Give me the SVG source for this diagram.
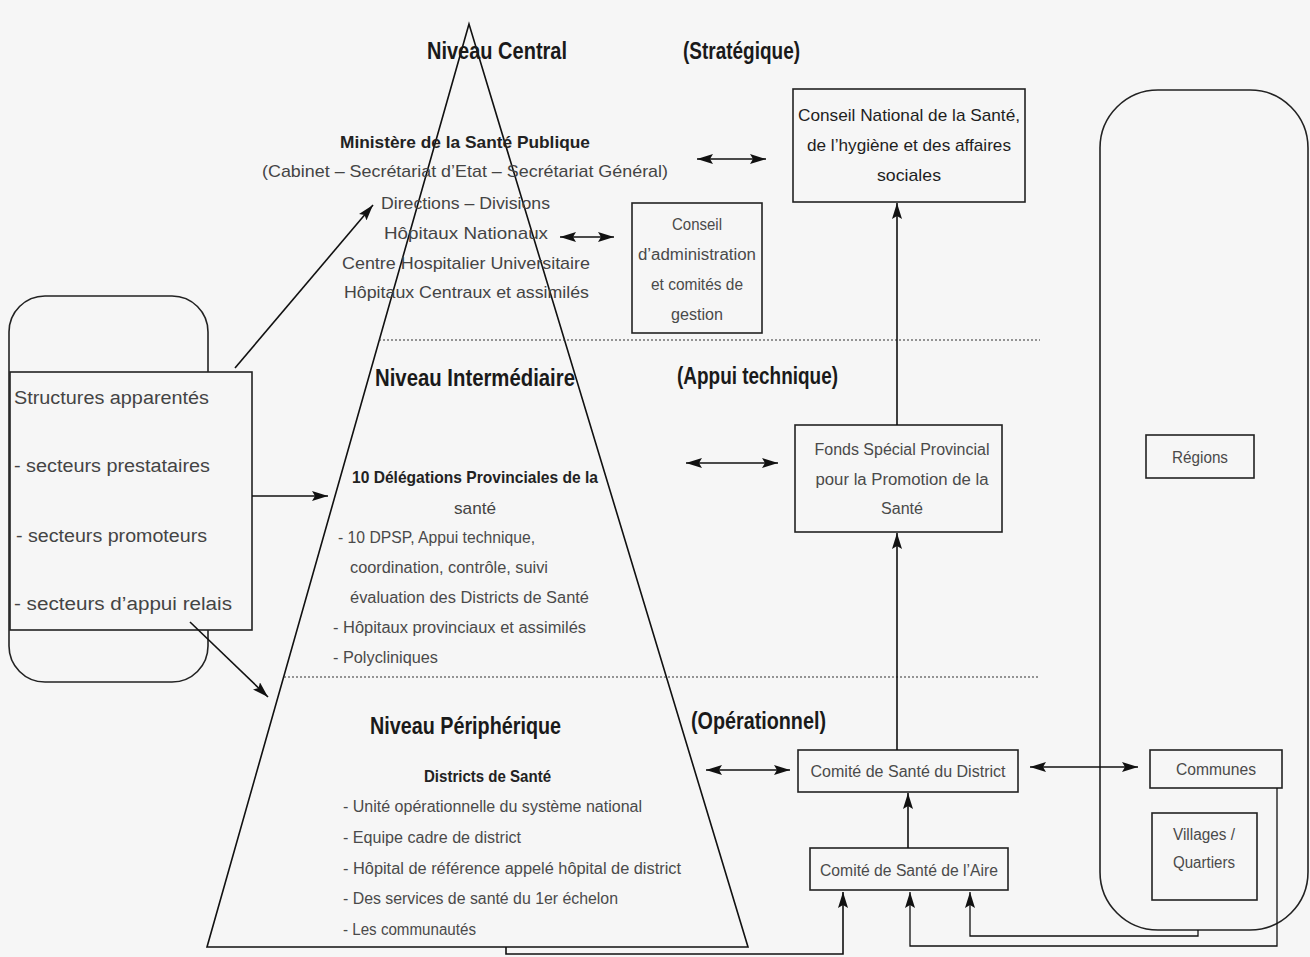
<svg xmlns="http://www.w3.org/2000/svg" width="1310" height="957" viewBox="0 0 1310 957">
<defs>
<style>
text{font-family:"Liberation Sans Narrow","Liberation Sans",Arial,sans-serif;fill:#333;dominant-baseline:central}
.h{font-size:24px;fill:#1a1a1a;font-weight:bold}
.b{font-size:17px;font-weight:bold;fill:#222}
.t{font-size:17px;fill:#444}
.s{font-size:16px;fill:#4a4a4a}
.m{text-anchor:middle}
.box{fill:none;stroke:#222;stroke-width:1.6}
.ln{fill:none;stroke:#111;stroke-width:1.6}
.dot{fill:none;stroke:#333;stroke-width:1;stroke-dasharray:2 2}
</style>
<marker id="ah" viewBox="0 0 16 10" refX="16" refY="5" markerWidth="16" markerHeight="10" markerUnits="userSpaceOnUse" orient="auto-start-reverse">
<path d="M0,0 L16,5 L0,10 L3,5 z" fill="#111"/>
</marker>
</defs>
<rect width="1310" height="957" fill="#f6f6f6"/>

<g id="pyramid">
<path d="M469,24 L207,947 L748,947 Z" class="ln" stroke-width="1.8"/>
<line x1="379" y1="340" x2="1040" y2="340" class="dot"/>
<line x1="284" y1="677" x2="1040" y2="677" class="dot"/>
</g>

<g id="niveau-central">
<text x="427" y="50" class="h" textLength="140" lengthAdjust="spacingAndGlyphs">Niveau Central</text>
<text x="683" y="50" class="h" textLength="117" lengthAdjust="spacingAndGlyphs">(Stratégique)</text>
<text x="340" y="142" class="b" textLength="250" lengthAdjust="spacingAndGlyphs">Ministère de la Santé Publique</text>
<text x="262" y="171" class="t" textLength="406" lengthAdjust="spacingAndGlyphs">(Cabinet – Secrétariat d’Etat – Secrétariat Général)</text>
<text x="381" y="203" class="t" textLength="169" lengthAdjust="spacingAndGlyphs">Directions – Divisions</text>
<text x="384" y="233" class="t" textLength="164" lengthAdjust="spacingAndGlyphs">Hôpitaux Nationaux</text>
<text x="342" y="263" class="t" textLength="248" lengthAdjust="spacingAndGlyphs">Centre Hospitalier Universitaire</text>
<text x="344" y="292" class="t" textLength="245" lengthAdjust="spacingAndGlyphs">Hôpitaux Centraux et assimilés</text>
</g>

<g id="conseil-national">
<rect x="793" y="89" width="232" height="113" class="box"/>
<text x="909" y="115" class="t m" textLength="222" lengthAdjust="spacingAndGlyphs" style="fill:#1e1e1e">Conseil National de la Santé,</text>
<text x="909" y="145" class="t m" textLength="204" lengthAdjust="spacingAndGlyphs" style="fill:#1e1e1e">de l’hygiène et des affaires</text>
<text x="909" y="175" class="t m" textLength="64" lengthAdjust="spacingAndGlyphs" style="fill:#1e1e1e">sociales</text>
</g>

<g id="conseil-administration">
<rect x="632" y="203" width="130" height="130" class="box"/>
<text x="697" y="224" class="s m" textLength="50" lengthAdjust="spacingAndGlyphs">Conseil</text>
<text x="697" y="254" class="s m" textLength="118" lengthAdjust="spacingAndGlyphs">d’administration</text>
<text x="697" y="284" class="s m" textLength="92" lengthAdjust="spacingAndGlyphs">et comités de</text>
<text x="697" y="314" class="s m" textLength="52" lengthAdjust="spacingAndGlyphs">gestion</text>
</g>

<g id="niveau-intermediaire">
<text x="375" y="377" class="h" textLength="200" lengthAdjust="spacingAndGlyphs">Niveau Intermédiaire</text>
<text x="677" y="375" class="h" textLength="161" lengthAdjust="spacingAndGlyphs">(Appui technique)</text>
<text x="352" y="477" class="b" textLength="246" lengthAdjust="spacingAndGlyphs">10 Délégations Provinciales de la</text>
<text x="475" y="508" class="t m" textLength="42" lengthAdjust="spacingAndGlyphs">santé</text>
<text x="338" y="537" class="s" textLength="197" lengthAdjust="spacingAndGlyphs">- 10 DPSP, Appui technique,</text>
<text x="350" y="567" class="s" textLength="198" lengthAdjust="spacingAndGlyphs">coordination, contrôle, suivi</text>
<text x="350" y="597" class="s" textLength="239" lengthAdjust="spacingAndGlyphs">évaluation  des Districts de Santé</text>
<text x="333" y="627" class="s" textLength="253" lengthAdjust="spacingAndGlyphs">- Hôpitaux provinciaux et assimilés</text>
<text x="333" y="657" class="s" textLength="105" lengthAdjust="spacingAndGlyphs">- Polycliniques</text>
</g>

<g id="fonds-special">
<rect x="795" y="425" width="207" height="107" class="box"/>
<text x="902" y="449" class="s m" textLength="175" lengthAdjust="spacingAndGlyphs">Fonds Spécial Provincial</text>
<text x="902" y="479" class="s m" textLength="173" lengthAdjust="spacingAndGlyphs">pour la Promotion de la</text>
<text x="902" y="508" class="s m" textLength="42" lengthAdjust="spacingAndGlyphs">Santé</text>
</g>

<g id="niveau-peripherique">
<text x="370" y="725" class="h" textLength="191" lengthAdjust="spacingAndGlyphs">Niveau Périphérique</text>
<text x="691" y="720" class="h" textLength="135" lengthAdjust="spacingAndGlyphs">(Opérationnel)</text>
<text x="424" y="776" class="b" textLength="127" lengthAdjust="spacingAndGlyphs">Districts de Santé</text>
<text x="343" y="806" class="s" textLength="299" lengthAdjust="spacingAndGlyphs">- Unité opérationnelle du système national</text>
<text x="343" y="837" class="s" textLength="178" lengthAdjust="spacingAndGlyphs">- Equipe cadre de district</text>
<text x="343" y="868" class="s" textLength="338" lengthAdjust="spacingAndGlyphs">- Hôpital de référence appelé hôpital de district</text>
<text x="343" y="898" class="s" textLength="275" lengthAdjust="spacingAndGlyphs">- Des services de santé du 1er échelon</text>
<text x="343" y="929" class="s" textLength="133" lengthAdjust="spacingAndGlyphs">- Les communautés</text>
</g>

<g id="comite-district">
<rect x="798" y="750" width="220" height="42" class="box"/>
<text x="908" y="771" class="s m" textLength="195" lengthAdjust="spacingAndGlyphs">Comité de Santé du District</text>
</g>

<g id="comite-aire">
<rect x="810" y="848" width="198" height="42" class="box"/>
<text x="909" y="870" class="s m" textLength="178" lengthAdjust="spacingAndGlyphs">Comité de Santé de l’Aire</text>
</g>

<g id="collectivites">
<rect x="1100" y="90" width="208" height="840" rx="58" ry="58" class="box" stroke-width="1.3"/>
</g>

<g id="regions">
<rect x="1146" y="435" width="108" height="43" class="box" stroke-width="1.3"/>
<text x="1200" y="457" class="s m" textLength="56" lengthAdjust="spacingAndGlyphs">Régions</text>
</g>

<g id="communes">
<rect x="1150" y="750" width="132" height="38" class="box" stroke-width="1.3"/>
<text x="1216" y="769" class="s m" textLength="80" lengthAdjust="spacingAndGlyphs">Communes</text>
</g>

<g id="villages">
<rect x="1152" y="813" width="105" height="87" class="box" stroke-width="1.3"/>
<text x="1204" y="834" class="s m" textLength="62" lengthAdjust="spacingAndGlyphs">Villages /</text>
<text x="1204" y="862" class="s m" textLength="62" lengthAdjust="spacingAndGlyphs">Quartiers</text>
</g>

<g id="structures-apparentees">
<rect x="9" y="296" width="199" height="386" rx="36" ry="36" class="box" stroke-width="1.4"/>
<rect x="10" y="372" width="242" height="258" class="box" style="fill:#f6f6f6" stroke-width="1.4"/>
<text x="14" y="398" class="t" style="font-size:18px" textLength="195" lengthAdjust="spacingAndGlyphs">Structures apparentés</text>
<text x="14" y="466" class="t" style="font-size:18px" textLength="196" lengthAdjust="spacingAndGlyphs">- secteurs prestataires</text>
<text x="16" y="536" class="t" style="font-size:18px" textLength="191" lengthAdjust="spacingAndGlyphs">- secteurs promoteurs</text>
<text x="14" y="604" class="t" style="font-size:18px" textLength="218" lengthAdjust="spacingAndGlyphs">- secteurs d’appui relais</text>
</g>

<g id="connectors" class="ln">
<line x1="235" y1="368" x2="373" y2="205" marker-end="url(#ah)"/>
<line x1="252" y1="496" x2="328" y2="496" marker-end="url(#ah)"/>
<line x1="190" y1="622" x2="268" y2="697" marker-end="url(#ah)"/>
<line x1="697" y1="159" x2="766" y2="159" marker-start="url(#ah)" marker-end="url(#ah)"/>
<line x1="560" y1="237" x2="614" y2="237" marker-start="url(#ah)" marker-end="url(#ah)"/>
<line x1="686" y1="463" x2="778" y2="463" marker-start="url(#ah)" marker-end="url(#ah)"/>
<line x1="706" y1="770" x2="790" y2="770" marker-start="url(#ah)" marker-end="url(#ah)"/>
<line x1="1030" y1="767" x2="1138" y2="767" marker-start="url(#ah)" marker-end="url(#ah)"/>
<line x1="897" y1="425" x2="897" y2="203" marker-end="url(#ah)"/>
<line x1="897" y1="750" x2="897" y2="533" marker-end="url(#ah)"/>
<line x1="908" y1="848" x2="908" y2="793" marker-end="url(#ah)"/>
<path d="M506,947 V954 H843 V892" marker-end="url(#ah)"/>
<path d="M1277,788 V946 H910 V892" marker-end="url(#ah)" stroke-width="1.3"/>
<path d="M1198,930 V936 H970 V892" marker-end="url(#ah)" stroke-width="1.3"/>
</g>
</svg>
